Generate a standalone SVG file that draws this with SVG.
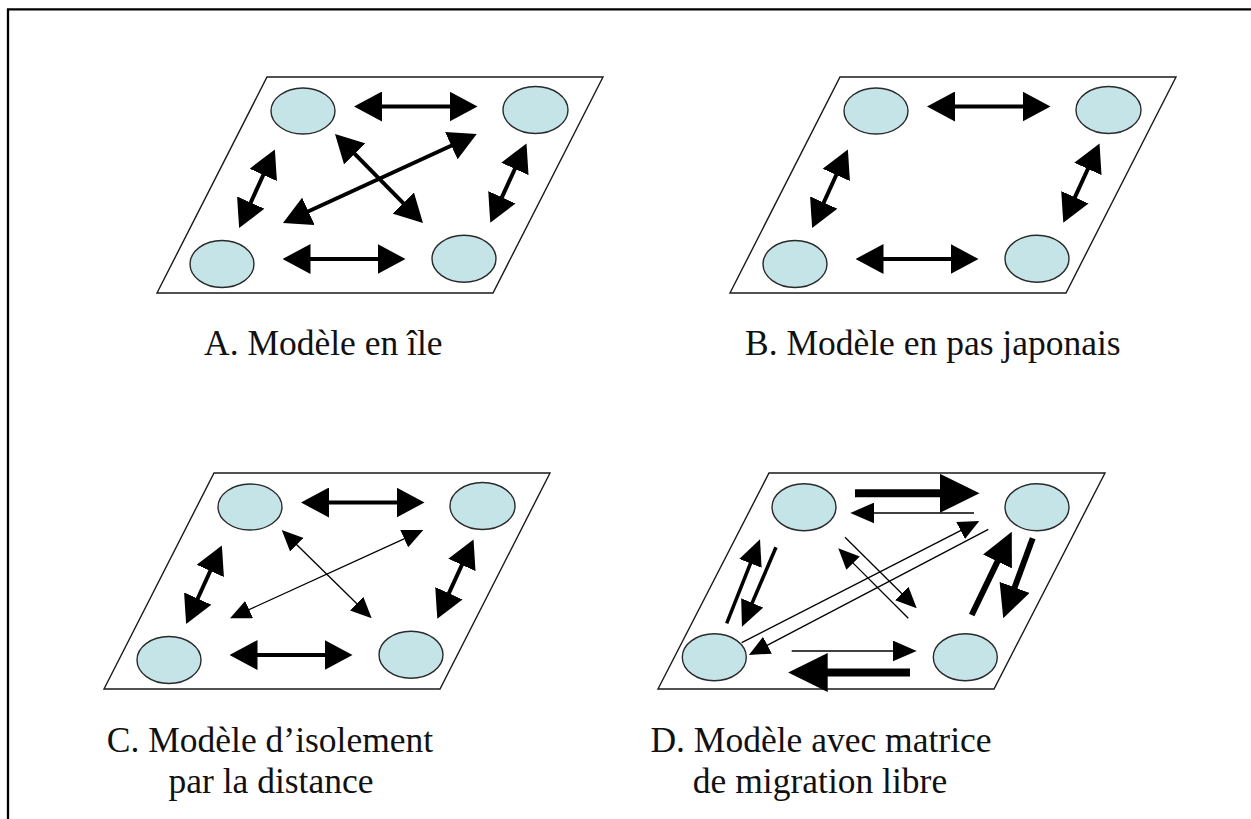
<svg xmlns="http://www.w3.org/2000/svg" width="1251" height="819" viewBox="0 0 1251 819">
  <style>
    .frame{fill:none;stroke:#000;stroke-width:2.3}
    .plane{fill:#fff;stroke:#1a1a1a;stroke-width:1.4}
    .deme{fill:#c4e4e8;stroke:#2a2a2a;stroke-width:1.4}
    .thick{fill:none;stroke:#000;stroke-width:4}
    .thin{fill:none;stroke:#000;stroke-width:1.3}
    .heavy{fill:none;stroke:#000;stroke-width:8}
    .mid{fill:none;stroke:#000;stroke-width:3.5}
    .bold{fill:none;stroke:#000;stroke-width:6}
    .label{font-family:"Liberation Serif","Times New Roman",serif;font-size:35.5px;fill:#111}
  </style>
  <defs>
    <!-- arrowheads: base sits on the line end, tip points outward -->
    <marker id="hL" markerUnits="userSpaceOnUse" markerWidth="28" markerHeight="30" viewBox="0 0 28 30" refX="1" refY="15" orient="auto-start-reverse">
      <path d="M0,0 L28,15 L0,30 z" fill="#000"/>
    </marker>
    <marker id="hS" markerUnits="userSpaceOnUse" markerWidth="21" markerHeight="19" viewBox="0 0 21 19" refX="1" refY="9.5" orient="auto-start-reverse">
      <path d="M0,0 L21,9.5 L0,19 z" fill="#000"/>
    </marker>
    <marker id="hS2" markerUnits="userSpaceOnUse" markerWidth="24" markerHeight="21" viewBox="0 0 24 21" refX="1" refY="10.5" orient="auto-start-reverse">
      <path d="M0,0 L24,10.5 L0,21 z" fill="#000"/>
    </marker>
    <marker id="hM" markerUnits="userSpaceOnUse" markerWidth="26" markerHeight="24" viewBox="0 0 26 24" refX="1" refY="12" orient="auto-start-reverse">
      <path d="M0,0 L26,12 L0,24 z" fill="#000"/>
    </marker>
    <marker id="hR" markerUnits="userSpaceOnUse" markerWidth="33" markerHeight="32" viewBox="0 0 33 32" refX="1" refY="16" orient="auto-start-reverse">
      <path d="M0,0 L33,16 L0,32 z" fill="#000"/>
    </marker>
    <marker id="hXL" markerUnits="userSpaceOnUse" markerWidth="39.5" markerHeight="39" viewBox="0 0 39.5 39" refX="1" refY="19.5" orient="auto-start-reverse">
      <path d="M0,0 L39.5,19.5 L0,39 z" fill="#000"/>
    </marker>
  </defs>

  <rect width="1251" height="819" fill="#fff"/>
  <path class="frame" d="M8,819 V9.3 H1251"/>

  <!-- A: island model -->
  <g id="panel-a">
    <polygon class="plane" points="267,77 603,77 493,293 157,293"/>
    <g id="connectors-a">
      <path class="thick" d="M381,106.5 H450.5" marker-start="url(#hL)" marker-end="url(#hL)"/>
      <path class="thick" d="M309.5,259 H378.5" marker-start="url(#hL)" marker-end="url(#hL)"/>
      <path class="thick" d="M250.3,203.5 L263.7,174" marker-start="url(#hL)" marker-end="url(#hL)"/>
      <path class="thick" d="M501.5,198.2 L515.3,168" marker-start="url(#hL)" marker-end="url(#hL)"/>
      <path class="thick" d="M307.5,211.7 L452.2,145.3" marker-start="url(#hL)" marker-end="url(#hL)"/>
      <path class="thick" d="M354,153.2 L404,203.8" marker-start="url(#hL)" marker-end="url(#hL)"/>
    </g>
    <g id="a-tl"><ellipse class="deme" cx="303" cy="111" rx="32" ry="23"/></g>
    <g id="a-tr"><ellipse class="deme" cx="535.5" cy="110" rx="32.5" ry="23.5"/></g>
    <g id="a-bl"><ellipse class="deme" cx="222" cy="264" rx="32" ry="23.5"/></g>
    <g id="a-br"><ellipse class="deme" cx="464" cy="258.7" rx="32" ry="23.5"/></g>
    <text class="label" x="204" y="355">A. Modèle en île</text>
  </g>

  <!-- B: stepping-stone model -->
  <g id="panel-b">
    <polygon class="plane" points="840,77 1176,77 1066,293 730,293"/>
    <g id="connectors-b">
      <path class="thick" d="M954,106.5 H1023.5" marker-start="url(#hL)" marker-end="url(#hL)"/>
      <path class="thick" d="M882.5,259 H951.5" marker-start="url(#hL)" marker-end="url(#hL)"/>
      <path class="thick" d="M823.3,203.5 L836.7,174" marker-start="url(#hL)" marker-end="url(#hL)"/>
      <path class="thick" d="M1074.5,198.2 L1088.3,168" marker-start="url(#hL)" marker-end="url(#hL)"/>
    </g>
    <g id="b-tl"><ellipse class="deme" cx="876" cy="111" rx="32" ry="23"/></g>
    <g id="b-tr"><ellipse class="deme" cx="1108.5" cy="110" rx="32.5" ry="23.5"/></g>
    <g id="b-bl"><ellipse class="deme" cx="795" cy="264" rx="32" ry="23.5"/></g>
    <g id="b-br"><ellipse class="deme" cx="1037" cy="258.7" rx="32" ry="23.5"/></g>
    <text class="label" x="745" y="355">B. Modèle en pas japonais</text>
  </g>

  <!-- C: isolation by distance -->
  <g id="panel-c">
    <polygon class="plane" points="214,473 550,473 440,689 104,689"/>
    <g id="connectors-c">
      <path class="thick" d="M328,502.5 H397.5" marker-start="url(#hL)" marker-end="url(#hL)"/>
      <path class="thick" d="M256.5,655 H325.5" marker-start="url(#hL)" marker-end="url(#hL)"/>
      <path class="thick" d="M197.3,599.5 L210.7,570" marker-start="url(#hL)" marker-end="url(#hL)"/>
      <path class="thick" d="M448.5,594.2 L462.3,564" marker-start="url(#hL)" marker-end="url(#hL)"/>
      <path class="thin" d="M248.2,610 L405.1,538.3" marker-start="url(#hS)" marker-end="url(#hS)"/>
      <path class="thin" d="M296,544 L357.4,604.3" marker-start="url(#hS)" marker-end="url(#hS)"/>
    </g>
    <g id="c-tl"><ellipse class="deme" cx="250" cy="507" rx="32" ry="23"/></g>
    <g id="c-tr"><ellipse class="deme" cx="482.5" cy="506" rx="32.5" ry="23.5"/></g>
    <g id="c-bl"><ellipse class="deme" cx="169" cy="660" rx="32" ry="23.5"/></g>
    <g id="c-br"><ellipse class="deme" cx="411" cy="654.7" rx="32" ry="23.5"/></g>
    <text class="label" text-anchor="middle"><tspan x="270" y="751.7">C. Modèle d’isolement</tspan><tspan x="271" y="793.3">par la distance</tspan></text>
  </g>

  <!-- D: free migration matrix -->
  <g id="panel-d">
    <polygon class="plane" points="769,473 1105,473 994,689 658,689"/>
    <g id="connectors-d">
      <path class="heavy" d="M855,493.3 H941" marker-end="url(#hXL)"/>
      <path class="thin" d="M974,513 H873.3" marker-end="url(#hS2)"/>
      <path class="thin" d="M791.7,651 H893.7" marker-end="url(#hS2)"/>
      <path class="heavy" d="M910,672.5 H826.7" marker-end="url(#hXL)"/>
      <path class="mid" d="M726.7,623.3 L750.8,562.5" marker-end="url(#hM)"/>
      <path class="mid" d="M776,547.3 L751.8,603.8" marker-end="url(#hM)"/>
      <path class="bold" d="M971.7,615 L997.9,560.6" marker-end="url(#hR)"/>
      <path class="bold" d="M1032.7,538.3 L1014.3,588.3" marker-end="url(#hR)"/>
      <path class="thin" d="M741.7,642.7 L961.5,530.1" marker-end="url(#hS)"/>
      <path class="thin" d="M988.3,529.3 L766.6,645.7" marker-end="url(#hS)"/>
      <path class="thin" d="M908.3,618.3 L852.4,562.4" marker-end="url(#hS)"/>
      <path class="thin" d="M845,537.3 L902.5,594.2" marker-end="url(#hS)"/>
    </g>
    <g id="d-tl"><ellipse class="deme" cx="804" cy="507.3" rx="32" ry="23.5"/></g>
    <g id="d-tr"><ellipse class="deme" cx="1037" cy="507.3" rx="32" ry="23.5"/></g>
    <g id="d-bl"><ellipse class="deme" cx="714.3" cy="657.3" rx="32" ry="23.5"/></g>
    <g id="d-br"><ellipse class="deme" cx="965.3" cy="657.3" rx="32" ry="23.5"/></g>
    <text class="label" text-anchor="middle"><tspan x="821" y="751.7">D. Modèle avec matrice</tspan><tspan x="820" y="793.3">de migration libre</tspan></text>
  </g>
</svg>
